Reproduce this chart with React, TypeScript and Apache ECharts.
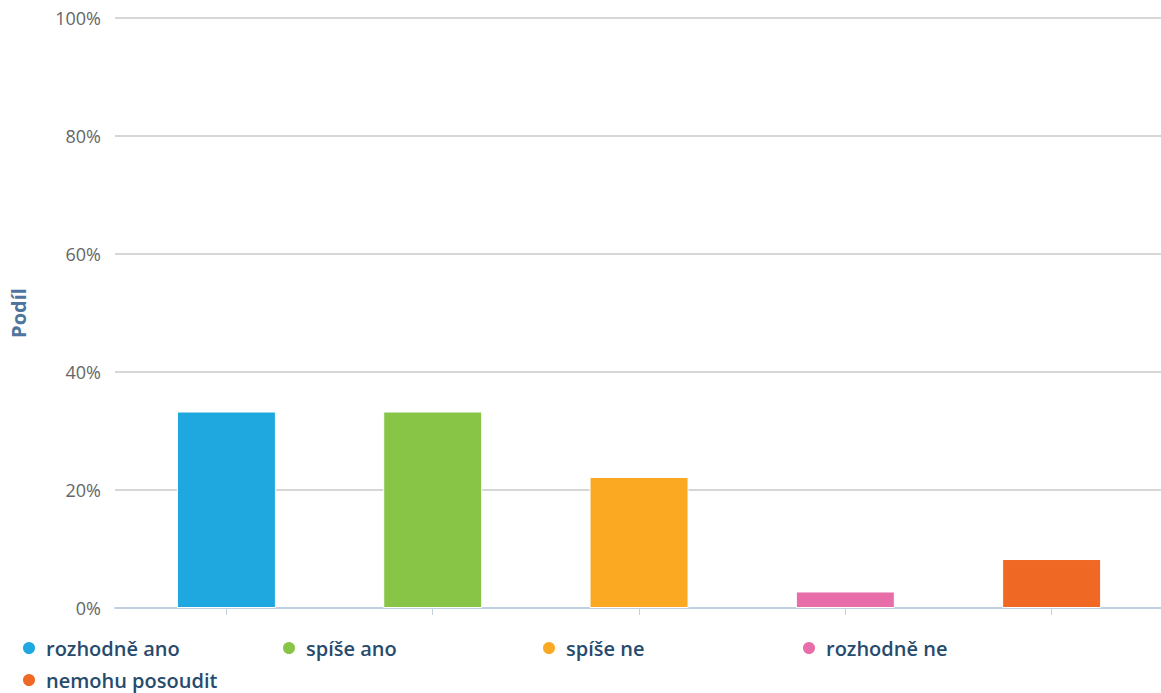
import React, { useEffect, useRef } from "react";
import * as echarts from "echarts";

const categories = ["rozhodně ano", "spíše ano", "spíše ne", "rozhodně ne", "nemohu posoudit"];
const shares = [33.3, 33.3, 22.2, 2.8, 8.3];
const colors = ["#1fa8e0", "#88c547", "#fba922", "#e76ea9", "#f06924"];
const yTicks = [0, 20, 40, 60, 80, 100];
const axisTitle = "Podíl";

const FONT = "'Open Sans', 'DejaVu Sans', sans-serif";

export default function App() {
  const ref = useRef<HTMLDivElement>(null);
  useEffect(() => {
    if (!ref.current) return;
    const chart = echarts.init(ref.current, undefined, { renderer: "svg" });
    const series = categories.map((name, i) => ({
      name,
      type: "bar",
      stack: "all",
      barWidth: 99,
      data: [[i, shares[i]]],
      itemStyle: { color: colors[i], borderColor: "#ffffff", borderWidth: 1 },
    }));
    chart.setOption({
      animation: false,
      textStyle: { fontFamily: FONT },
      grid: { left: 109, right: 0, top: 18, bottom: 85, containLabel: false },
      xAxis: {
        type: "value",
        min: -0.54,
        max: 4.53,
        splitLine: { show: false },
        axisLine: { show: true, lineStyle: { color: "#c0d0e0", width: 2 } },
        axisTick: {
          show: true,
          length: 7,
          lineStyle: { color: "#c0d0e0" },
          customValues: categories.map((_, i) => i),
        },
        axisLabel: { show: false },
      },
      yAxis: {
        type: "value",
        min: yTicks[0],
        max: yTicks[yTicks.length - 1],
        interval: 20,
        name: axisTitle,
        nameLocation: "middle",
        nameRotate: 90,
        nameGap: 87,
        nameTextStyle: { color: "#4d759e", fontWeight: "bold", fontSize: 20, fontFamily: FONT },
        axisLine: { show: false },
        axisTick: { show: false },
        axisLabel: {
          formatter: "{value}%",
          color: "#666666",
          fontSize: 18,
          margin: 14,
          fontFamily: FONT,
        },
        splitLine: { lineStyle: { color: "#c8c8c8", width: 1.5 } },
      },
      legend: {
        left: 16,
        top: 633,
        orient: "horizontal",
        icon: "circle",
        itemWidth: 14,
        itemHeight: 14,
        itemGap: 12,
        width: 1120,
        data: categories,
        textStyle: {
          color: "#274b6d",
          fontSize: 20,
          fontWeight: 600,
          fontFamily: FONT,
          width: 223,
          lineHeight: 20,
          padding: [0, 0, 0, 5],
        },
      },
      series,
    });
    return () => chart.dispose();
  }, []);
  return (
    <div
      ref={ref}
      style={{ position: "fixed", left: 0, top: 0, width: 1161, height: 693, background: "#fff" }}
    />
  );
}
